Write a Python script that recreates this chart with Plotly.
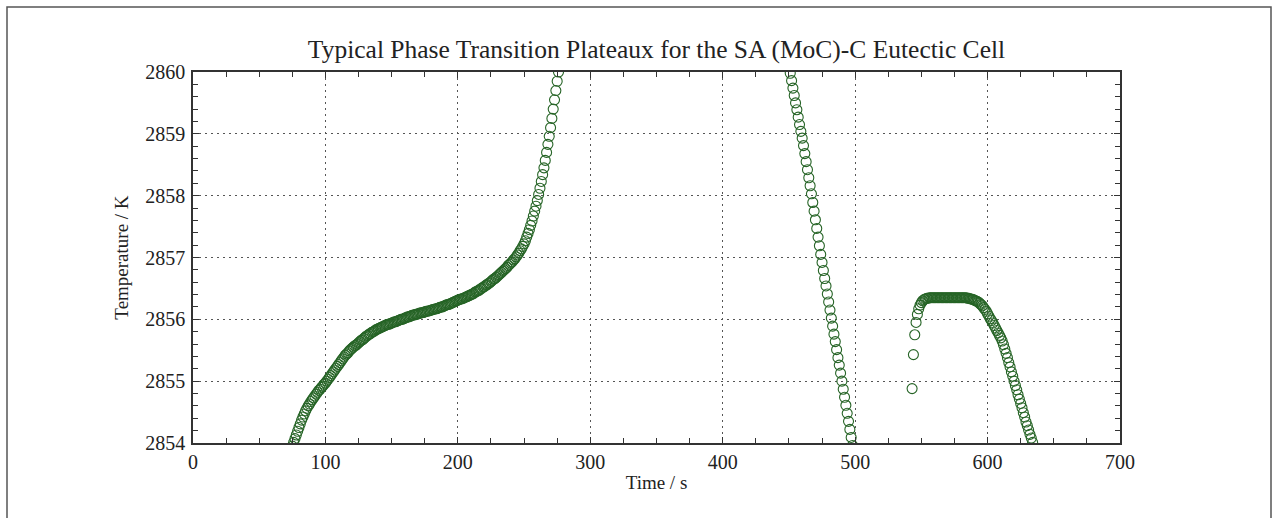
import plotly.graph_objects as go

# ---- data (1 s sampling) ----
t_melt = list(range(75, 278))
T_melt = [
    2853.95, 2854.01, 2854.07, 2854.13, 2854.19,
    2854.25, 2854.31, 2854.37, 2854.42, 2854.47,
    2854.52, 2854.56, 2854.60, 2854.63, 2854.67,
    2854.70, 2854.73, 2854.76, 2854.79, 2854.82,
    2854.85, 2854.87, 2854.90, 2854.92, 2854.95,
    2854.97, 2855.00, 2855.03, 2855.06, 2855.09,
    2855.12, 2855.15, 2855.18, 2855.21, 2855.24,
    2855.27, 2855.30, 2855.33, 2855.36, 2855.39,
    2855.42, 2855.44, 2855.46, 2855.49, 2855.51,
    2855.53, 2855.55, 2855.57, 2855.58, 2855.60,
    2855.62, 2855.64, 2855.66, 2855.67, 2855.69,
    2855.71, 2855.73, 2855.74, 2855.76, 2855.77,
    2855.79, 2855.80, 2855.81, 2855.83, 2855.84,
    2855.85, 2855.86, 2855.87, 2855.88, 2855.89,
    2855.90, 2855.91, 2855.92, 2855.92, 2855.93,
    2855.94, 2855.95, 2855.96, 2855.96, 2855.97,
    2855.98, 2855.99, 2856.00, 2856.00, 2856.01,
    2856.02, 2856.03, 2856.04, 2856.04, 2856.05,
    2856.06, 2856.07, 2856.07, 2856.08, 2856.08,
    2856.09, 2856.10, 2856.10, 2856.11, 2856.11,
    2856.12, 2856.13, 2856.13, 2856.14, 2856.14,
    2856.15, 2856.16, 2856.16, 2856.17, 2856.17,
    2856.18, 2856.19, 2856.20, 2856.20, 2856.21,
    2856.22, 2856.23, 2856.24, 2856.24, 2856.25,
    2856.26, 2856.27, 2856.28, 2856.29, 2856.30,
    2856.31, 2856.32, 2856.33, 2856.33, 2856.34,
    2856.35, 2856.36, 2856.37, 2856.38, 2856.39,
    2856.40, 2856.41, 2856.42, 2856.44, 2856.45,
    2856.46, 2856.47, 2856.49, 2856.50, 2856.52,
    2856.53, 2856.55, 2856.56, 2856.58, 2856.59,
    2856.61, 2856.63, 2856.65, 2856.66, 2856.68,
    2856.70, 2856.72, 2856.74, 2856.76, 2856.78,
    2856.80, 2856.82, 2856.84, 2856.87, 2856.89,
    2856.91, 2856.93, 2856.96, 2856.98, 2857.01,
    2857.04, 2857.07, 2857.11, 2857.14, 2857.18,
    2857.22, 2857.27, 2857.33, 2857.39, 2857.45,
    2857.52, 2857.59, 2857.67, 2857.75, 2857.83,
    2857.92, 2858.02, 2858.12, 2858.23, 2858.34,
    2858.45, 2858.57, 2858.70, 2858.83, 2858.96,
    2859.10, 2859.25, 2859.40, 2859.55, 2859.70,
    2859.85, 2860.00, 2860.15,
]

t_cool = list(range(451, 500))
T_cool = [
    2859.98, 2859.86, 2859.74, 2859.62, 2859.50,
    2859.39, 2859.27, 2859.15, 2859.04, 2858.93,
    2858.81, 2858.68, 2858.55, 2858.42, 2858.29,
    2858.16, 2858.03, 2857.89, 2857.75, 2857.61,
    2857.47, 2857.33, 2857.19, 2857.05, 2856.92,
    2856.79, 2856.66, 2856.54, 2856.41, 2856.28,
    2856.15, 2856.02, 2855.89, 2855.76, 2855.64,
    2855.51, 2855.38, 2855.26, 2855.13, 2855.00,
    2854.87, 2854.74, 2854.61, 2854.48, 2854.35,
    2854.22, 2854.09, 2853.96, 2853.83,
]

t_freeze = list(range(543, 635))
T_freeze = [
    2854.88, 2855.43, 2855.75, 2855.95, 2856.08,
    2856.17, 2856.23, 2856.27, 2856.30, 2856.32,
    2856.33, 2856.34, 2856.34, 2856.35, 2856.35,
    2856.35, 2856.35, 2856.35, 2856.35, 2856.35,
    2856.35, 2856.35, 2856.35, 2856.35, 2856.35,
    2856.35, 2856.35, 2856.35, 2856.35, 2856.35,
    2856.35, 2856.35, 2856.35, 2856.35, 2856.35,
    2856.35, 2856.35, 2856.35, 2856.35, 2856.35,
    2856.35, 2856.35, 2856.34, 2856.34, 2856.33,
    2856.33, 2856.32, 2856.31, 2856.30, 2856.29,
    2856.28, 2856.26, 2856.24, 2856.22, 2856.19,
    2856.16, 2856.13, 2856.09, 2856.05, 2856.01,
    2855.98, 2855.94, 2855.90, 2855.86, 2855.82,
    2855.78, 2855.74, 2855.70, 2855.65, 2855.59,
    2855.52, 2855.45, 2855.38, 2855.30, 2855.23,
    2855.15, 2855.08, 2855.00, 2854.93, 2854.86,
    2854.78, 2854.71, 2854.64, 2854.57, 2854.49,
    2854.42, 2854.34, 2854.28, 2854.21, 2854.14,
    2854.08, 2854.01,
]

title_text = "Typical Phase Transition Plateaux for the SA (MoC)-C Eutectic Cell"
x_title = "Time / s"
y_title = "Temperature / K"

marker_color = "rgb(38,100,38)"
serif = "Liberation Serif, Times New Roman, serif"

fig = go.Figure()
for tx, ty in [(t_melt, T_melt), (t_cool, T_cool), (t_freeze, T_freeze)]:
    fig.add_trace(go.Scatter(
        x=tx, y=ty, mode="markers",
        marker=dict(symbol="circle-open", size=10, color=marker_color,
                    line=dict(width=1.1, color=marker_color)),
        showlegend=False,
    ))

axis_common = dict(
    showline=True, linecolor="#333333", linewidth=1.5, mirror="allticks",
    ticks="inside", ticklen=6, tickwidth=1, tickcolor="#333333",
    showgrid=True, gridcolor="#555555", griddash="1.5px,4.5px", gridwidth=1.3,
    zeroline=False,
    tickfont=dict(family=serif, size=20, color="#222222"),
)

fig.update_xaxes(
    range=[0, 700], dtick=100, tick0=0,
    minor=dict(dtick=25, ticks="inside", ticklen=5, tickcolor="#333333", showgrid=False),
    title=dict(text=x_title, font=dict(family=serif, size=19, color="#222222"), standoff=4),
    **axis_common,
)
fig.update_yaxes(
    range=[2854, 2860], dtick=1, tick0=2854, tickformat="d", ticklabelstandoff=2,
    minor=dict(dtick=0.2, ticks="inside", ticklen=5, tickcolor="#333333", showgrid=False),
    title=dict(text=y_title, font=dict(family=serif, size=19, color="#222222"), standoff=12),
    **axis_common,
)

fig.update_layout(
    width=1274, height=518,
    margin=dict(l=193, r=154, t=72, b=75),
    plot_bgcolor="white", paper_bgcolor="white",
    title=dict(text=title_text, x=0.5, xref="paper", xanchor="center",
               y=1 - 49 / 518, yanchor="middle",
               font=dict(family=serif, size=25.5, color="#222222")),
    shapes=[dict(type="rect", xref="paper", yref="paper",
                 x0=(7 - 193) / 927, x1=(1271 - 193) / 927,
                 y0=(443 - 540) / 371, y1=(443 - 7) / 371,
                 line=dict(color="#555555", width=1.5), layer="below")],
)

fig.write_html("out.html")
